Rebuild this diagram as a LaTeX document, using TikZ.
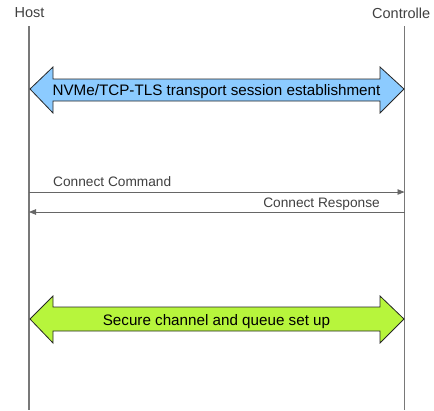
\documentclass[tikz,border=0pt]{standalone}
\usepackage{fontspec}
\setmainfont{Liberation Sans}
\usetikzlibrary{arrows.meta,positioning}
\definecolor{bandblue}{RGB}{140,203,255}
\definecolor{bandgreen}{RGB}{183,245,60}
\definecolor{lifegray}{RGB}{120,120,120}
\tikzset{
    lifeline/.style={
        line width=1.4pt,
        lifegray
    },
    % message arrows between host and controller
    msgarrow/.style={
        line width=0.8pt,
        black!60,
        -{Triangle[length=7pt, width=5.5pt]}
    },
    band/.style={
        line width=0.8pt,
        black!85
    },
    actor/.style={font=\fontsize{14.5}{17}\selectfont, text=black!75, inner sep=0pt},
    msglabel/.style={font=\fontsize{13.7}{16}\selectfont, text=black!75, inner sep=0pt},
    bandlabel/.style={font=\fontsize{15.2}{18}\selectfont, inner sep=0pt}
}

\begin{document}
\begin{tikzpicture}[x=1pt,y=-1pt]
    \useasboundingbox (0,0) rectangle (434,410);
    \node[actor] (host) at (29.5,13) {Host};
    \node[actor,anchor=west] (ctrl) at (372,13) {Controlle};
    \path 
    (29,26) coordinate (h1) (29,410) coordinate (h2)
    (404.5,26) coordinate (c1) (404.5,410) coordinate (c2)
    (29,192) coordinate (cmdh) (404.5,192) coordinate (cmdc)
    (29,212) coordinate (rsph) (404.5,212) coordinate (rspc);
    \draw[lifeline] (h1) -- (h2);
    \draw[lifeline] (c1) -- (c2);

    % TLS session band
    \draw[band,fill=bandblue] (30,89) -- (53,67) -- (53,79) -- (380,79) -- (380,67)
    -- (404,89) -- (380,113) -- (380,101) -- (53,101) -- (53,113) -- cycle;
    \node[bandlabel,anchor=base] (tls) at (216.5,95) {NVMe/TCP-TLS transport session establishment};

    \draw[msgarrow] (cmdh) -- (cmdc);
    \node[msglabel,anchor=base west] (cmd) at (53,186.5) {Connect Command};
    \draw[msgarrow] (rspc) -- (rsph);
    \node[msglabel,anchor=base east] (rsp) at (380,207.5) {Connect Response};

    % queue set up band
    \draw[band,fill=bandgreen] (30,319) -- (53,296) -- (53,307) -- (380,307) -- (380,296)
    -- (404,319) -- (380,343) -- (380,331) -- (53,331) -- (53,343) -- cycle;
    \node[bandlabel,anchor=base] (queue) at (216.5,325) {Secure channel and queue set up};
\end{tikzpicture}
\end{document}
